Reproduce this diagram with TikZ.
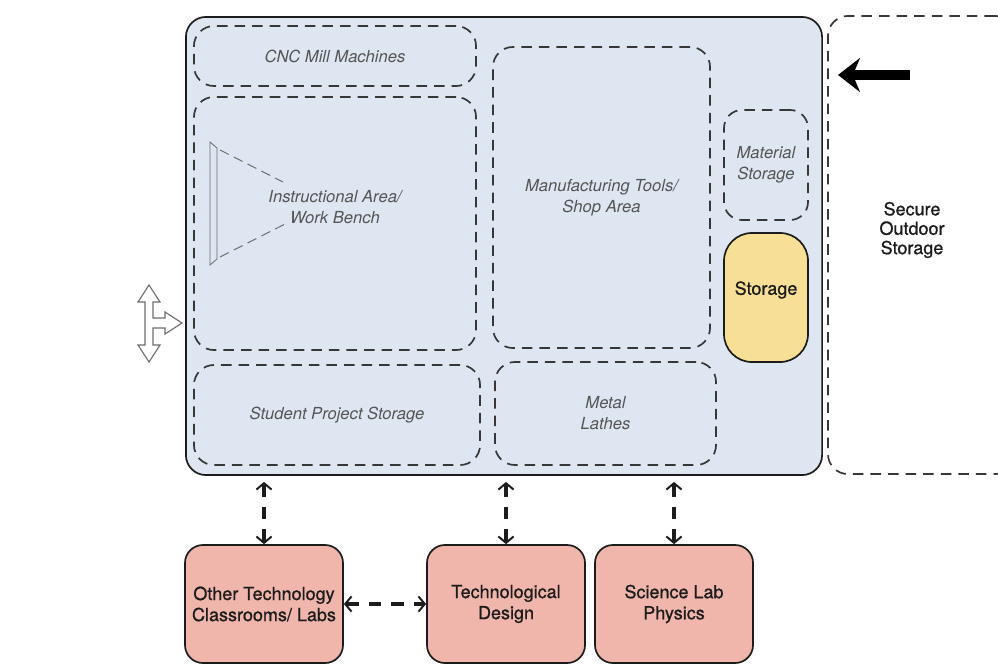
\documentclass[tikz,border=0pt]{standalone}
\usepackage{fontspec}
\setmainfont{TeX Gyre Heros}
\newfontfamily\medfont[FakeBold=0.9]{TeX Gyre Heros}
\usetikzlibrary{arrows.meta}

\definecolor{inkdark}{RGB}{28,28,28}
\definecolor{dashgray}{RGB}{55,55,55}
\definecolor{labelgray}{RGB}{85,85,85}
\definecolor{roomblue}{RGB}{221,230,241}
\definecolor{storeyellow}{RGB}{247,224,150}
\definecolor{labpink}{RGB}{240,182,172}
\definecolor{icongray}{RGB}{110,110,110}

\begin{document}
\begin{tikzpicture}[x=0.025cm, y=-0.025cm,
	every node/.style={font=\medfont\fontsize{12.8}{15}\selectfont, text=inkdark, align=center, inner sep=0pt},
	zonetext/.style={font=\fontsize{11.8}{15}\selectfont\itshape, text=labelgray},
	zone/.style={zonetext, draw=dashgray, line width=1.2pt, dash pattern=on 7.5pt off 5pt, rounded corners=0.5cm},
	solidbox/.style={draw=inkdark, line width=1.2pt},
	lab/.style={solidbox, fill=labpink, rounded corners=0.45cm, minimum width=3.95cm, minimum height=2.95cm},
	link/.style={draw=inkdark, line width=2.6pt, dash pattern=on 9pt off 7pt, >={Straight Barb[length=1.6mm,width=3.8mm,line width=1.4pt]}, <->},
	beam/.style={draw=icongray, line width=0.7pt, dash pattern=on 7pt off 4pt},
	icon/.style={draw=icongray, fill=white, line width=0.8pt, line join=miter}]
	\useasboundingbox (0,0) rectangle (998,666);
	\clip (0,0) rectangle (998,666);

	\node[solidbox, fill=roomblue, rounded corners=0.5cm, minimum width=15.9cm, minimum height=11.45cm] (room) at (504,246) {};
	\node[zone, minimum width=7.05cm, minimum height=1.5cm] (cnc) at (335,56) {CNC Mill Machines};
	\node[zone, minimum width=7.05cm, minimum height=6.325cm] (bench) at (335,223.5) {};
	\node[zonetext] (benchlabel) at (335,207) {Instructional Area/\\Work Bench};
	\node[zone, minimum width=7.15cm, minimum height=2.5cm] (projects) at (337,415) {Student Project Storage};
	\node[zone, minimum width=5.425cm, minimum height=7.525cm] (tools) at (601.5,197.5) {Manufacturing Tools/\\Shop Area};
	\node[zone, minimum width=5.525cm, minimum height=2.575cm] (lathes) at (605.5,413.5) {Metal\\Lathes};
	\node[zone, rounded corners=0.45cm, minimum width=2.1cm, minimum height=2.75cm] (material) at (766,165) {Material\\Storage};
	\node[solidbox, fill=storeyellow, rounded corners=0.7cm, minimum width=2.1cm, minimum height=3.225cm] (storage) at (766,297.5) {};
	\node (storagelabel) at (766,290) {Storage};

	\draw[icon, fill=none, line width=0.6pt] (210,142) -- (217,148) -- (217,259) -- (210,265) -- cycle;
	\draw[beam] (220,150) -- (283,182);
	\draw[beam] (220,257) -- (285,224);

	\node[zone, minimum width=4.675cm, minimum height=11.45cm] (outdoor) at (921.5,245) {};
	\node[font=\medfont\fontsize{12.8}{13.8}\selectfont] (outdoorlabel) at (912,230) {Secure\\Outdoor\\Storage};
	\coordinate (entry) at (910,75);
	\coordinate (entrytip) at (838,75);
	\draw[line width=7pt, -{Stealth[length=5.5mm,width=8.5mm,inset=1.8mm]}] (entry) -- (entrytip);

	\draw[icon] (149,285) -- (160,302) -- (153,302) -- (153,318) -- (165,318) -- (165,312) -- (182,323) -- (165,334) -- (165,328) -- (153,328) -- (153,345) -- (160,345) -- (149,362) -- (138,345) -- (145,345) -- (145,302) -- (138,302) -- cycle;

	\node[lab] (other) at (264,604) {Other Technology\\Classrooms/ Labs};
	\node[lab] (tech) at (506,604) {Technological\\Design};
	\node[lab] (sci) at (674,604) {Science Lab\\Physics};

	\foreach \n in {other,tech,sci}
		\draw[link, shorten <=1.5mm] (\n.north |- room.south) -- (\n.north);
	\draw[link] (other.east) -- (tech.west);
\end{tikzpicture}
\end{document}
